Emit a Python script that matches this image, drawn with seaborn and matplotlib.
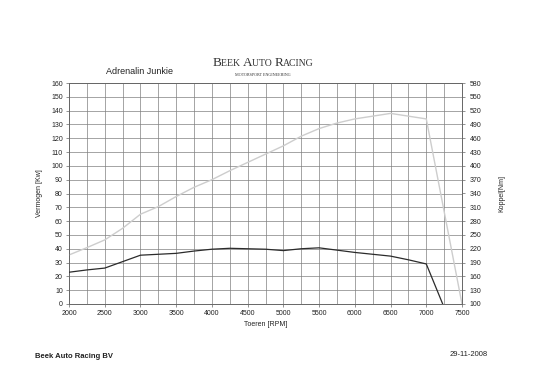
import matplotlib
matplotlib.use("Agg")
import matplotlib.pyplot as plt
import seaborn as sns
import pandas as pd
import numpy as np

# ---- data ----
rpm_power = [2000, 2250, 2500, 2750, 3000, 3250, 3500, 3750, 4000, 4250, 4500,
             4750, 5000, 5250, 5500, 5750, 6000, 6250, 6500, 6750, 7000, 7500]
power_kw = [35.5, 40.8, 46.4, 54.8, 65, 70.5, 77.8, 84.5, 90, 96.5, 102.5,
            108.5, 114.5, 121.5, 127, 131, 134, 136, 138, 136, 134, 0]

rpm_torque = [2000, 2250, 2500, 2750, 3000, 3250, 3500, 3750, 4000, 4250, 4500,
              4750, 5000, 5250, 5500, 5750, 6000, 6250, 6500, 6750, 7000, 7230]
torque_nm = [169, 174, 178, 192, 206, 208, 210, 215, 219, 221, 220,
             219, 216, 220, 222, 217, 212, 208, 204, 196, 187, 100]

x_ticks = list(range(2000, 7501, 500))
left_ticks = list(range(0, 161, 10))
right_ticks = list(range(100, 581, 30))

sns.set_theme(style="white")
plt.rcParams['font.family'] = ['Liberation Sans', 'DejaVu Sans']

fig = plt.figure(figsize=(5.38, 3.92), dpi=100)
ax = fig.add_axes([69/538, 1-304/392, (462-69)/538, (304-83)/392])
ax2 = ax.twinx()

dfp = pd.DataFrame({"rpm": rpm_power, "kw": power_kw})
dft = pd.DataFrame({"rpm": rpm_torque, "nm": torque_nm})

sns.lineplot(data=dfp, x="rpm", y="kw", ax=ax, color="#cdcdcd", lw=1.0, zorder=3)
sns.lineplot(data=dft, x="rpm", y="nm", ax=ax2, color="#2b2b2b", lw=0.9, zorder=3)

ax.set_xlim(2000, 7500)
ax.set_ylim(0, 160)
ax2.set_ylim(100, 580)

ax.set_xticks(x_ticks)
ax.set_xticks(list(range(2000, 7501, 250)), minor=True)
ax.set_yticks(left_ticks)
ax2.set_yticks(right_ticks)
ax.grid(True, which="both", color="#808080", lw=0.5)
ax.set_axisbelow(True)

for a in (ax, ax2):
    for s in a.spines.values():
        s.set_color("#666666")
        s.set_linewidth(0.6)

ax.tick_params(axis="both", which="major", labelsize=5, length=2.5, width=0.5,
               color="#666666", pad=2, labelcolor="#222222", direction="out",
               bottom=True, left=True)
ax.tick_params(axis="x", which="minor", length=0)
ax2.tick_params(axis="y", labelsize=5, length=2.5, width=0.5, color="#666666",
                pad=3, labelcolor="#222222", right=True, direction="out")

ax.set_xlabel("Toeren [RPM]", fontsize=5, labelpad=3, color="#222222")
ax.set_ylabel("Vermogen [Kw]", fontsize=5, labelpad=6, color="#222222")
ax2.set_ylabel("Koppel[Nm]", fontsize=5, labelpad=12, color="#222222", rotation=90)

fig.text(140/538, 1-72/392, "Adrenalin Junkie", fontsize=6.5, ha="center",
         va="center", color="#222222")

# logo with small-caps look
serif = ["Liberation Serif", "DejaVu Serif"]
pieces = [("B", 9.5), ("EEK ", 7), ("A", 9.5), ("UTO ", 7), ("R", 9.5), ("ACING", 7)]
renderer = fig.canvas.get_renderer()
widths = []
for s, fs in pieces:
    t = fig.text(0, 0, s.replace(" ", "\u00a0"), fontsize=fs, family=serif)
    widths.append(t.get_window_extent(renderer).width)
    t.remove()
total = sum(widths)
x0 = 263 - total / 2
ybase = 1 - 66/392
for (s, fs), w in zip(pieces, widths):
    fig.text(x0/538, ybase, s.replace(" ", "\u00a0"), fontsize=fs, family=serif,
             ha="left", va="baseline", color="#333333")
    x0 += w
fig.text(263/538, 1-75/392, "MOTORSPORT ENGINEERING", fontsize=3, ha="center",
         va="center", family=serif, color="#333333")

# footer
fig.text(35/538, 1-357/392, "Beek Auto Racing BV", fontsize=5.5, ha="left",
         va="center", fontweight="bold", color="#222222")
fig.text(488/538, 1-355/392, "29-11-2008", fontsize=5.5, ha="right",
         va="center", color="#222222")

fig.savefig("out.png", dpi=100, facecolor="white")
